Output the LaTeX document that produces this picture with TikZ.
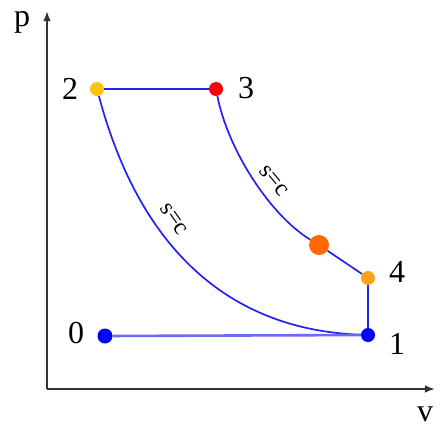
\documentclass[tikz,border=0pt]{standalone}
\usepackage{fontspec}
\setmainfont{Liberation Serif}
\usepackage{tikz}
\usetikzlibrary{arrows.meta,positioning}
\usepackage{xcolor}
\definecolor{cycblue}{HTML}{2323F0}
\definecolor{lowblue}{HTML}{6A6AF8}
\definecolor{gold2}{HTML}{FFC20E}
\definecolor{org4}{HTML}{FFA21A}
\definecolor{orgmid}{HTML}{FF6A00}

\begin{document}
\begin{tikzpicture}[x=1pt,y=-1pt,>=Latex,
  dot/.style={circle,inner sep=0pt,minimum size=14pt},
  axis/.style={->,line width=1.6pt,draw=black!80},
  cyc/.style={line width=1.7pt,draw=cycblue},
  lbl/.style={font=\fontsize{32}{32}\selectfont,inner sep=0pt},
  sc/.style={font=\fontsize{24}{24}\selectfont,inner sep=0pt}]
\useasboundingbox (0,0) rectangle (444,431);
% axes
\coordinate (origin) at (47,389);
\coordinate (ptop) at (47,11);
\coordinate (vend) at (435,389);
\draw[axis] (origin) -- (ptop);
\draw[axis] (origin) -- (vend);
\node[lbl] (plab) at (22,22) {p};
\node[lbl] (vlab) at (425,414) {v};
% state points
\node[dot,fill=gold2] (n2) at (97,89) {};
\node[dot,fill=red] (n3) at (216,89) {};
\node[dot,fill=orgmid,minimum size=20pt] (nm) at (319,245) {};
\node[dot,fill=org4] (n4) at (368,278) {};
\node[dot,fill=blue] (n1) at (368,335) {};
\node[dot,fill=blue,minimum size=15pt] (n0) at (105,336) {};
% cycle
\draw[cyc] (n2) -- (n3);
\draw[cyc] (n3) .. controls (228,150) and (270,215) .. (nm);
\draw[cyc] (nm) -- (n4);
\draw[cyc] (n4) -- (n1);
\draw[cyc] (n2) .. controls (140,250) and (230,330) .. (n1);
\draw[line width=2.6pt,draw=lowblue] (n0) -- (n1);
% labels
\node[lbl] (l2) at (70,89) {2};
\node[lbl] (l3) at (246,88) {3};
\node[lbl] (l4) at (397,272) {4};
\node[lbl] (l1) at (397,344) {1};
\node[lbl] (l0) at (76,333) {0};
\node[sc,rotate=-55] (sc1) at (174,219) {s=c};
\node[sc,rotate=-50] (sc2) at (274,181) {s=c};
\end{tikzpicture}
\end{document}
